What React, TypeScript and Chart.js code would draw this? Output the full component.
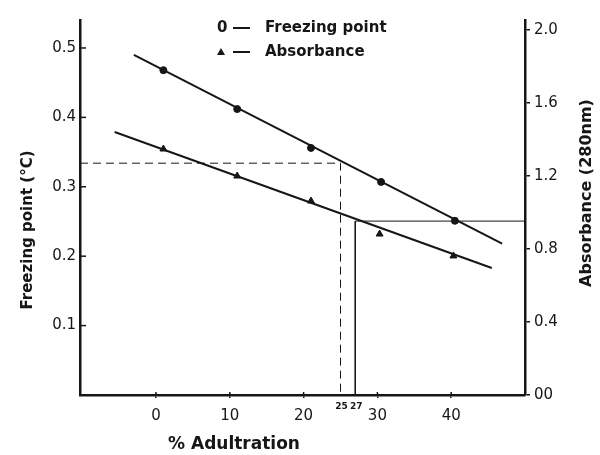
import React, { useEffect, useRef } from 'react';
import { Chart, registerables } from 'chart.js';

Chart.register(...registerables);

// ---- data ----
const xTickValues = [0, 10, 20, 30, 40];
const xMarkValues = [25, 27];
const leftTickValues = [0.1, 0.2, 0.3, 0.4, 0.5];
const rightTickValues = [0, 0.4, 0.8, 1.2, 1.6, 2.0];
const rightTickLabels = ['00', '0.4', '0.8', '1.2', '1.6', '2.0'];

const fpAdulteration = [1, 11, 21, 30.5, 40.5];
const freezingPoint = [0.468, 0.412, 0.356, 0.307, 0.251];
const absAdulteration = [1, 11, 21, 30.3, 40.3];
const absorbance = [1.348, 1.2, 1.063, 0.882, 0.762];

const fpFitX = [-3, 46.9];
const fpFitY = [0.49, 0.218];
const absFitX = [-5.6, 45.5];
const absFitY = [1.441, 0.696];

const fpGuideX = [-10.3, 25, 25];
const fpGuideY = [0.334, 0.334, 0];
const absGuideX = [50, 27, 27];
const absGuideY = [0.953, 0.953, 0];

const INK = '#161616';
const FONT = '"DejaVu Sans", sans-serif';

const pts = (xs: number[], ys: number[]) => xs.map((x, i) => ({ x, y: ys[i] }));

const overlay = {
  id: 'overlay',
  afterDraw(chart: any) {
    const ctx = chart.ctx as CanvasRenderingContext2D;
    const { x, y } = chart.scales;
    const area = chart.chartArea;
    ctx.save();
    ctx.strokeStyle = INK;
    ctx.fillStyle = INK;
    ctx.lineWidth = 1.5;
    // inner tick marks on left axis
    leftTickValues.forEach((v) => {
      const py = y.getPixelForValue(v);
      ctx.beginPath();
      ctx.moveTo(area.left, py);
      ctx.lineTo(area.left + 6, py);
      ctx.stroke();
    });
    // inner tick marks on bottom axis
    xTickValues.forEach((v) => {
      const px = x.getPixelForValue(v);
      ctx.beginPath();
      ctx.moveTo(px, area.bottom);
      ctx.lineTo(px, area.bottom - 3);
      ctx.stroke();
    });
    // small labels 25 / 27
    ctx.font = `bold 9px ${FONT}`;
    ctx.textAlign = 'center';
    ctx.textBaseline = 'top';
    xMarkValues.forEach((v) => {
      ctx.fillText(String(v), x.getPixelForValue(v) + 1, area.bottom + 7);
    });

    // legend
    ctx.font = `bold 15px ${FONT}`;
    ctx.textAlign = 'left';
    ctx.textBaseline = 'middle';
    const lx = area.left + 137;
    const ly1 = 28;
    const ly2 = 52;
    ctx.fillText('0', lx, ly1);
    ctx.fillText('Freezing point', lx + 48, ly1);
    ctx.fillText('Absorbance', lx + 48, ly2);
    ctx.lineWidth = 2;
    [ly1, ly2].forEach((ly) => {
      ctx.beginPath();
      ctx.moveTo(lx + 16, ly);
      ctx.lineTo(lx + 33, ly);
      ctx.stroke();
    });
    ctx.beginPath();
    ctx.moveTo(lx + 4, ly2 - 4);
    ctx.lineTo(lx + 8, ly2 + 3);
    ctx.lineTo(lx, ly2 + 3);
    ctx.closePath();
    ctx.fill();

    // axis titles
    ctx.textAlign = 'center';
    ctx.textBaseline = 'middle';
    ctx.save();
    ctx.translate(28, 230);
    ctx.rotate(-Math.PI / 2);
    ctx.font = `bold 15px ${FONT}`;
    ctx.fillText('Freezing point (°C)', 0, 0);
    ctx.restore();

    ctx.save();
    ctx.translate(587, 193);
    ctx.rotate(-Math.PI / 2);
    ctx.font = `bold 16px ${FONT}`;
    ctx.fillText('Absorbance (280nm)', 0, 0);
    ctx.restore();

    ctx.font = `bold 17px ${FONT}`;
    ctx.fillText('% Adultration', 234, 445);
    ctx.restore();
  },
};

export default function App() {
  const ref = useRef<HTMLCanvasElement | null>(null);

  useEffect(() => {
    if (!ref.current) return;
    const tickFont = { family: FONT, size: 15 };
    const chart = new Chart(ref.current, {
      type: 'scatter',
      data: {
        datasets: [
          {
            label: 'fp fit',
            data: pts(fpFitX, fpFitY),
            showLine: true,
            borderColor: INK,
            borderWidth: 2,
            pointRadius: 0,
            yAxisID: 'y',
          },
          {
            label: 'abs fit',
            data: pts(absFitX, absFitY),
            showLine: true,
            borderColor: INK,
            borderWidth: 2,
            pointRadius: 0,
            yAxisID: 'y1',
          },
          {
            label: 'Freezing point',
            data: pts(fpAdulteration, freezingPoint),
            showLine: false,
            pointStyle: 'circle',
            pointRadius: 3.5,
            backgroundColor: INK,
            borderColor: INK,
            yAxisID: 'y',
          },
          {
            label: 'Absorbance',
            data: pts(absAdulteration, absorbance),
            showLine: false,
            pointStyle: 'triangle',
            pointRadius: 4,
            backgroundColor: INK,
            borderColor: INK,
            yAxisID: 'y1',
          },
          {
            label: 'fp guide',
            data: pts(fpGuideX, fpGuideY),
            showLine: true,
            borderColor: INK,
            borderWidth: 1,
            borderDash: [8, 5],
            pointRadius: 0,
            yAxisID: 'y',
          },
          {
            label: 'abs guide',
            data: pts(absGuideX, absGuideY),
            showLine: true,
            borderColor: INK,
            borderWidth: 1,
            pointRadius: 0,
            yAxisID: 'y1',
          },
        ],
      },
      options: {
        responsive: false,
        animation: false,
        layout: { padding: { top: 20, left: 0, right: 0, bottom: 0 } },
        plugins: { legend: { display: false }, tooltip: { enabled: false } },
        scales: {
          x: {
            type: 'linear',
            position: 'bottom',
            min: -10.3,
            max: 50,
            afterBuildTicks: (s: any) => {
              s.ticks = xTickValues.map((v) => ({ value: v }));
            },
            afterFit: (s: any) => {
              s.height = 60;
            },
            grid: { drawOnChartArea: false, drawTicks: true, tickLength: 3, color: INK, lineWidth: 1.5 },
            border: { display: true, color: INK, width: 2.5 },
            ticks: { color: INK, font: tickFont, padding: 9, maxRotation: 0 },
          },
          y: {
            type: 'linear',
            position: 'left',
            min: 0,
            max: 0.5403,
            afterBuildTicks: (s: any) => {
              s.ticks = leftTickValues.map((v) => ({ value: v }));
            },
            afterFit: (s: any) => {
              s.width = 80;
            },
            grid: { drawOnChartArea: false, drawTicks: false },
            border: { display: true, color: INK, width: 2.5 },
            ticks: { color: INK, font: tickFont, padding: 4, callback: (v: any) => Number(v).toFixed(1) },
          },
          y1: {
            type: 'linear',
            position: 'right',
            min: 0,
            max: 2.055,
            afterBuildTicks: (s: any) => {
              s.ticks = rightTickValues.map((v) => ({ value: v }));
            },
            afterFit: (s: any) => {
              s.width = 75;
            },
            grid: { drawOnChartArea: false, drawTicks: true, tickLength: 5, color: INK, lineWidth: 1.5 },
            border: { display: true, color: INK, width: 2.5 },
            ticks: {
              color: INK,
              font: tickFont,
              padding: 4,
              callback: (v: any) => {
                const i = rightTickValues.findIndex((t) => Math.abs(t - Number(v)) < 1e-6);
                return i >= 0 ? rightTickLabels[i] : '';
              },
            },
          },
        },
      },
      plugins: [overlay],
    });
    return () => chart.destroy();
  }, []);

  return (
    <div style={{ position: 'fixed', left: 0, top: 0, width: 600, height: 455, background: '#fff' }}>
      <canvas ref={ref} width={600} height={455} style={{ display: 'block' }} />
    </div>
  );
}
